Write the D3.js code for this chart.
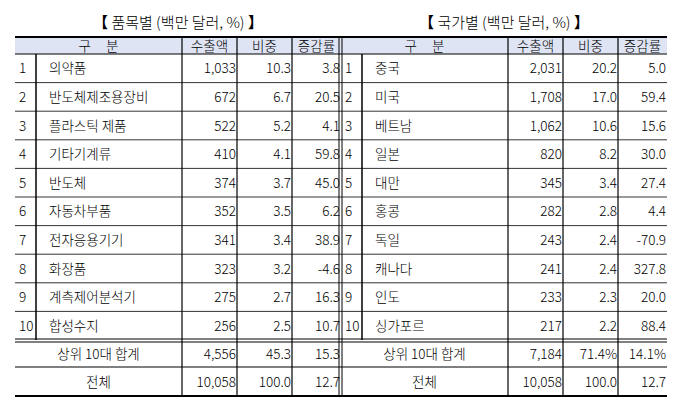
<!DOCTYPE html>
<html><head><meta charset="utf-8">
<script src="https://cdn.jsdelivr.net/npm/d3@7"></script>
<style>body{margin:0;background:#fff}</style></head>
<body><script>
const headers = ["구\u00a0\u00a0\u00a0\u00a0\u00a0분", "수출액", "비중", "증감률"];
const itemNames = ["의약품","반도체제조용장비","플라스틱 제품","기타기계류","반도체","자동차부품","전자응용기기","화장품","계측제어분석기","합성수지"];
const itemExport = ["1,033","672","522","410","374","352","341","323","275","256"];
const itemShare = ["10.3","6.7","5.2","4.1","3.7","3.5","3.4","3.2","2.7","2.5"];
const itemGrowth = ["3.8","20.5","4.1","59.8","45.0","6.2","38.9","-4.6","16.3","10.7"];
const itemTotals = [["상위 10대 합계","4,556","45.3","15.3"],["전체","10,058","100.0","12.7"]];
const countryNames = ["중국","미국","베트남","일본","대만","홍콩","독일","캐나다","인도","싱가포르"];
const countryExport = ["2,031","1,708","1,062","820","345","282","243","241","233","217"];
const countryShare = ["20.2","17.0","10.6","8.2","3.4","2.8","2.4","2.4","2.3","2.2"];
const countryGrowth = ["5.0","59.4","15.6","30.0","27.4","4.4","-70.9","327.8","20.0","88.4"];
const countryTotals = [["상위 10대 합계","7,184","71.4%","14.1%"],["전체","10,058","100.0","12.7"]];

const svg = d3.select("body").append("svg").attr("width",680).attr("height",413)
  .style("font-family","'Noto Sans CJK KR', sans-serif").style("font-weight","300");

const rowY = d3.scaleLinear().domain([0,10]).range([54,340]);
const fs = "13.5px";

function drawTable(x0, title, names, ex, sh, gr, totals) {
  const cols = [x0, x0+21, x0+167, x0+222, x0+277, x0+326];
  const g = svg.append("g");
  g.append("text").attr("x",(cols[0]+cols[5])/2).attr("y",28).attr("text-anchor","middle")
    .style("font-size","15px").style("font-weight","bold").text("【 ")
    .append("tspan").style("font-weight","300").text(title)
    .append("tspan").style("font-weight","bold").text(" 】");
  g.append("rect").attr("x",cols[0]).attr("y",37).attr("width",cols[5]-cols[0]).attr("height",17).attr("fill","#dfe4f4");
  const hx = [(cols[0]+cols[2])/2,(cols[2]+cols[3])/2,(cols[3]+cols[4])/2,(cols[4]+cols[5])/2];
  headers.forEach((h,i)=>g.append("text").attr("x",hx[i]).attr("y",51).attr("text-anchor","middle")
    .style("font-size",fs).text(h));
  d3.range(10).forEach(i=>{
    const cy = (rowY(i)+rowY(i+1))/2+5;
    g.append("text").attr("x",cols[0]+4).attr("y",cy).style("font-size",fs).text(i+1);
    g.append("text").attr("x",cols[1]+13).attr("y",cy).style("font-size",fs).text(names[i]);
    [ex[i],sh[i],gr[i]].forEach((v,j)=>g.append("text").attr("x",cols[j+3]-1).attr("y",cy)
      .attr("text-anchor","end").style("font-size",fs).text(v));
  });
  const ty = [340,367,396];
  totals.forEach((r,k)=>{
    const cy=(ty[k]+ty[k+1])/2+5;
    g.append("text").attr("x",(cols[0]+cols[2])/2).attr("y",cy).attr("text-anchor","middle").style("font-size",fs).text(r[0]);
    r.slice(1).forEach((v,j)=>g.append("text").attr("x",cols[j+3]-1).attr("y",cy)
      .attr("text-anchor","end").style("font-size",fs).text(v));
  });
  const line=(x1,y1,x2,y2,w)=>g.append("line").attr("x1",x1).attr("y1",y1).attr("x2",x2).attr("y2",y2)
    .attr("stroke","#000").attr("stroke-width",w||1);
  line(cols[0],37,cols[5],37,2);
  line(cols[0],54,cols[5],54,1);
  d3.range(1,10).forEach(i=>line(cols[0],rowY(i),cols[5],rowY(i),0.8));
  line(cols[0],339,cols[5],339,1); line(cols[0],342,cols[5],342,1);
  line(cols[0],367,cols[5],367,1);
  line(cols[0],396,cols[5],396,2);
  line(cols[1],54,cols[1],340,1.5);
  [2,3,4].forEach(c=>line(cols[c],37,cols[c],396,1.2));
}
drawTable(15,"품목별 (백만 달러, %)",itemNames,itemExport,itemShare,itemGrowth,itemTotals);
drawTable(341,"국가별 (백만 달러, %)",countryNames,countryExport,countryShare,countryGrowth,countryTotals);
svg.append("line").attr("x1",339).attr("x2",339).attr("y1",37).attr("y2",396).attr("stroke","#000");
svg.append("line").attr("x1",342).attr("x2",342).attr("y1",37).attr("y2",396).attr("stroke","#000");
</script></body></html>
